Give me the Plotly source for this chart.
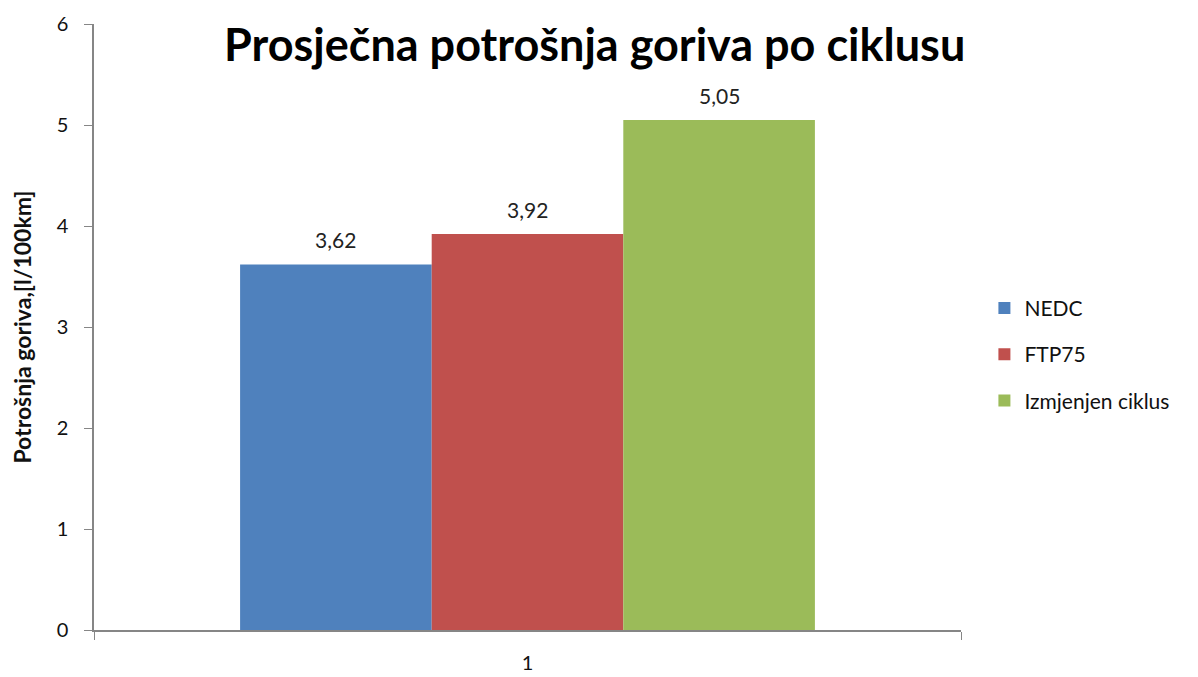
import plotly.graph_objects as go

categories = ["1"]
series_names = ["NEDC", "FTP75", "Izmjenjen ciklus"]
series_values = [[3.62], [3.92], [5.05]]
colors = ["#4F81BD", "#C0504D", "#9BBB59"]

FONT = "Lato, Carlito, Calibri, sans-serif"
BARGAP = 0.337

fig = go.Figure()
for i, (name, vals) in enumerate(zip(series_names, series_values)):
    fig.add_trace(go.Bar(
        x=categories, y=vals, name=name,
        marker=dict(color=colors[i], line=dict(width=0)),
        legendgroup=name,
    ))

# data labels placed above each bar of the group
n = len(series_names)
bw = (1 - BARGAP) / n
annotations = []
for i, vals in enumerate(series_values):
    for j, v in enumerate(vals):
        annotations.append(dict(
            x=j + (i - (n - 1) / 2) * bw, y=v, xref="x", yref="y",
            text=f"{v:.2f}".replace(".", ","), showarrow=False,
            yanchor="bottom", yshift=10,
            font=dict(size=21, color="#222", family=FONT)))

fig.update_layout(
    width=1190, height=669,
    margin=dict(l=86, r=237, t=16, b=47, autoexpand=False),
    paper_bgcolor="white", plot_bgcolor="white",
    separators=",.",
    barmode="group", bargap=BARGAP, bargroupgap=0,
    font=dict(family=FONT, size=20, color="#111"),
    title=dict(text="<b>Prosječna potrošnja goriva po ciklusu</b>",
               x=0.493, xanchor="center", y=0.945, yanchor="middle",
               font=dict(size=45, family=FONT, color="black")),
    legend=dict(x=1.027, xanchor="left", y=0.455, yanchor="middle",
                font=dict(size=21, family=FONT, color="#111"),
                tracegroupgap=16, itemsizing="constant"),
    showlegend=True,
    annotations=annotations,
)
fig.update_xaxes(type="category", showline=True, linecolor="#868686", linewidth=1.5,
                 ticks="outside", tickson="boundaries", ticklen=8, tickcolor="#868686",
                 tickfont=dict(size=20), ticklabelstandoff=14, automargin=False,
                 showgrid=False, zeroline=False)
fig.update_yaxes(range=[0, 6], dtick=1, showline=True, linecolor="#868686", linewidth=1.5,
                 ticks="outside", ticklen=8, tickcolor="#868686", showgrid=False,
                 zeroline=False, tickfont=dict(size=20), ticklabelstandoff=12,
                 automargin=False,
                 title=dict(text="<b>Potrošnja goriva,[l/100km]</b>",
                            font=dict(size=23, family=FONT), standoff=24))

fig.write_html("out.html")
